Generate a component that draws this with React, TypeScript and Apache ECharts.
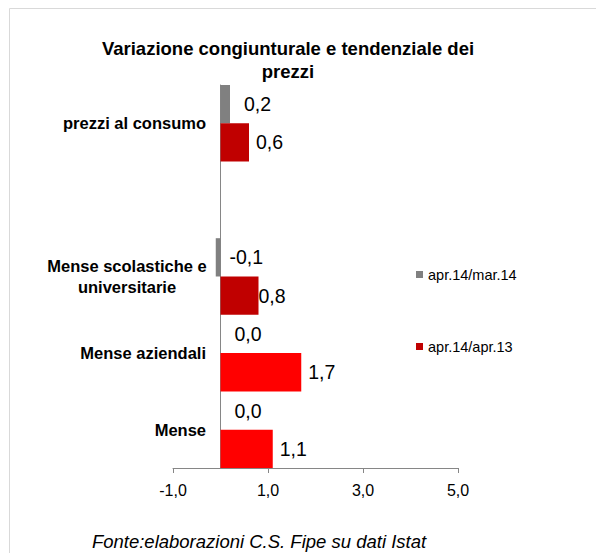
import React, { useEffect, useRef } from 'react';
import * as echarts from 'echarts';

const titleText = 'Variazione congiunturale e tendenziale dei\nprezzi';
const sourceText = 'Fonte:elaborazioni C.S. Fipe su dati Istat';
const categories = ['Mense', 'Mense aziendali', 'Mense scolastiche e\nuniversitarie', '', 'prezzi al consumo'];
const seriesNames = ['apr.14/mar.14', 'apr.14/apr.13'];
const congiunturale: (number | null)[] = [0.0, 0.0, -0.1, null, 0.2];
const tendenziale: (number | null)[] = [1.1, 1.7, 0.8, null, 0.6];
const xTicks = [-1, 1, 3, 5];

const GRAY = '#808080';
const DARK_RED = '#C00000';
const RED = '#FF0000';
const redShades = [RED, RED, DARK_RED, DARK_RED, DARK_RED];
const grayLabelDist = [14, 14, 9, 14, 14];
const redLabelDist = [7, 7, 0, 7, 7];
const FONT = '"Liberation Sans", Arial, sans-serif';

const fmt = (v: number) => v.toFixed(1).replace('.', ',');

export default function App() {
  const ref = useRef<HTMLDivElement>(null);
  useEffect(() => {
    if (!ref.current) return;
    const chart = echarts.init(ref.current, undefined, { renderer: 'svg' });
    chart.setOption({
      animation: false,
      backgroundColor: '#ffffff',
      textStyle: { fontFamily: FONT },
      title: {
        text: titleText,
        left: 283,
        textAlign: 'center',
        top: 32,
        textStyle: { fontFamily: FONT, fontSize: 18.5, fontWeight: 'bold', color: '#000', lineHeight: 23 },
      },
      legend: {
        orient: 'vertical',
        left: 416,
        top: 267,
        padding: 0,
        itemWidth: 7,
        itemHeight: 7,
        itemGap: 57,
        icon: 'rect',
        textStyle: { fontFamily: FONT, fontSize: 14.5, color: '#000' },
        data: seriesNames,
      },
      grid: { left: 173, right: 138, top: 85, bottom: 85, containLabel: false, outerBoundsMode: 'none' },
      xAxis: {
        type: 'value',
        min: -1,
        max: 5,
        axisLine: { show: true, lineStyle: { color: '#868686', width: 1 } },
        axisTick: { show: true, length: 5, lineStyle: { color: '#868686' }, customValues: xTicks },
        axisLabel: {
          customValues: xTicks,
          fontFamily: FONT,
          fontSize: 16,
          color: '#000',
          margin: 14,
          formatter: (v: number) => fmt(v),
        },
        splitLine: { show: false },
      },
      yAxis: {
        type: 'category',
        data: categories,
        axisLine: { show: true, onZero: true, lineStyle: { color: '#868686', width: 1 } },
        axisTick: { show: false },
        axisLabel: {
          fontFamily: FONT,
          fontSize: 16.5,
          fontWeight: 'bold',
          color: '#000',
          margin: -33,
          lineHeight: 21,
          formatter: (v: string) =>
            v.includes('\n') ? v.split('\n').map((s) => '{c|' + s + '}').join('\n') : v,
          rich: {
            c: { width: 158, align: 'center', fontFamily: FONT, fontSize: 16.5, fontWeight: 'bold', lineHeight: 21 },
          },
        },
      },
      series: [
        {
          name: seriesNames[0],
          type: 'bar',
          barGap: '0%',
          barCategoryGap: '0%',
          itemStyle: { color: GRAY },
          data: congiunturale.map((v, i) =>
            v === null
              ? null
              : { value: v, label: { distance: grayLabelDist[i] } }
          ),
          label: {
            show: true,
            position: 'right',
            fontFamily: FONT,
            fontSize: 19.5,
            color: '#000',
            formatter: (p: any) => fmt(p.value),
          },
        },
        {
          name: seriesNames[1],
          type: 'bar',
          barGap: '0%',
          barCategoryGap: '0%',
          itemStyle: { color: DARK_RED },
          data: tendenziale.map((v, i) =>
            v === null
              ? null
              : { value: v, itemStyle: { color: redShades[i] }, label: { distance: redLabelDist[i] } }
          ),
          label: {
            show: true,
            position: 'right',
            fontFamily: FONT,
            fontSize: 19.5,
            color: '#000',
            formatter: (p: any) => fmt(p.value),
          },
        },
      ],
      graphic: [
        {
          type: 'rect',
          shape: { x: 9.5, y: 8.5, width: 800, height: 800 },
          style: { fill: 'none', stroke: '#d9d9d9', lineWidth: 1 },
          silent: true,
        },
        {
          type: 'text',
          x: 259,
          y: 541,
          style: {
            text: sourceText,
            fontFamily: FONT,
            fontSize: 18.5,
            fontStyle: 'italic',
            fill: '#000',
            textAlign: 'center',
            textVerticalAlign: 'middle',
          },
        },
      ],
    });
    return () => chart.dispose();
  }, []);
  return <div ref={ref} style={{ position: 'absolute', left: 0, top: 0, width: 596, height: 553 }} />;
}
